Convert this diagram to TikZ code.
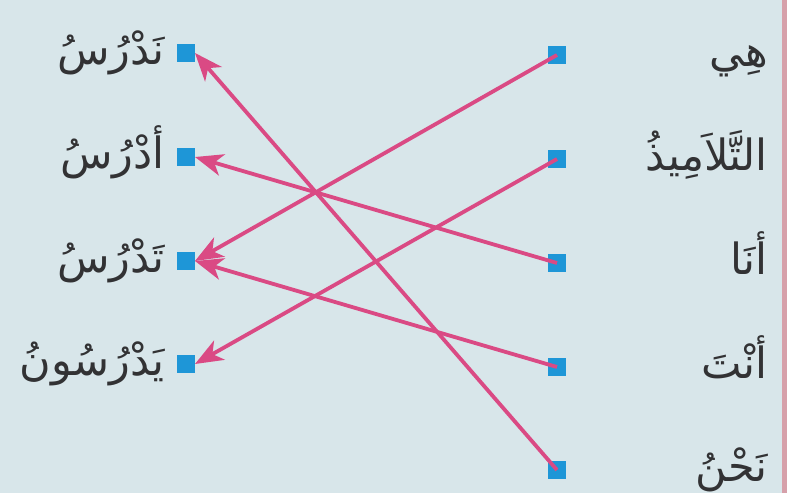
\documentclass[tikz,border=0pt]{standalone}
\usepackage{fontspec}
\TeXXeTstate=1
\newfontfamily\arabicfont[Script=Arabic]{DejaVu Sans}
\usetikzlibrary{arrows.meta}
\definecolor{bgcol}{RGB}{216,230,234}
\definecolor{edgecol}{RGB}{214,160,170}
\definecolor{sqcol}{RGB}{30,150,215}
\definecolor{arrcol}{RGB}{218,74,132}
\definecolor{txtcol}{RGB}{50,50,52}
\tikzset{
  dot/.style={fill=sqcol,draw=none,minimum size=18pt,inner sep=0pt,outer sep=0pt},
  word/.style={text=txtcol,font=\arabicfont\fontsize{43}{50}\selectfont,inner sep=0pt},
  link/.style={draw=arrcol,line width=3.8pt,-{Stealth[length=28pt,width=22pt,inset=8pt]}},
}
\begin{document}
\begin{tikzpicture}[x=1pt,y=-1pt]
\useasboundingbox (0,0) rectangle (787,493);
\fill[bgcol] (0,0) rectangle (787,493);
\fill[edgecol] (782,0) rectangle (787,493);
% left squares
\node[dot] (l1) at (186,53) {};
\node[dot] (l2) at (186,157) {};
\node[dot] (l3) at (186,261) {};
\node[dot] (l4) at (186,364) {};
% right squares
\node[dot] (r1) at (557,55) {};
\node[dot] (r2) at (557,159) {};
\node[dot] (r3) at (557,263) {};
\node[dot] (r4) at (557,367) {};
\node[dot] (r5) at (557,470) {};
% left words
\node[word,anchor=base east] (w1) at (165,64) {\beginR نَدْرُسُ\endR};
\node[word,anchor=base east] (w2) at (165,168) {\beginR أدْرُسُ\endR};
\node[word,anchor=base east] (w3) at (165,272) {\beginR تَدْرُسُ\endR};
\node[word,anchor=base east] (w4) at (165,375) {\beginR يَدْرُسُونُ\endR};
% right words
\node[word,anchor=base east] (v1) at (768,66) {\beginR هِي\endR};
\node[word,anchor=base east] (v2) at (768,170) {\beginR التَّلاَمِيذُ\endR};
\node[word,anchor=base east] (v3) at (768,274) {\beginR أنَا\endR};
\node[word,anchor=base east] (v4) at (768,378) {\beginR أنْتَ\endR};
\node[word,anchor=base east] (v5) at (768,481) {\beginR نَحْنُ\endR};
% arrows
\draw[link] (r1.center) -- (l3.east);
\draw[link] (r2.center) -- (l4.east);
\draw[link] (r3.center) -- (l2.east);
\draw[link] (r4.center) -- (l3.east);
\draw[link] (r5.center) -- (l1.east);
\end{tikzpicture}
\end{document}
